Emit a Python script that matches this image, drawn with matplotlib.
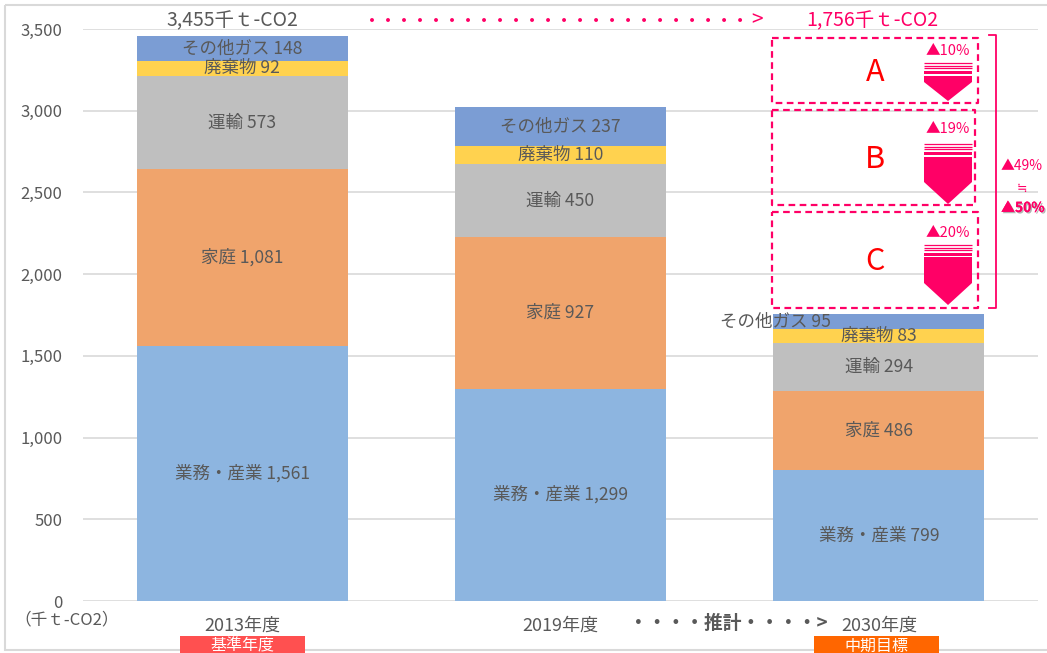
import matplotlib
matplotlib.use("Agg")
import matplotlib.pyplot as plt
import matplotlib.patheffects as pe
import numpy as np

plt.rcParams['font.family'] = ['Noto Sans CJK JP', 'DejaVu Sans']

years = ['2013年度', '2019年度', '2030年度']
sectors = ['業務・産業', '家庭', '運輸', '廃棄物', 'その他ガス']
values = {
    '業務・産業': [1561, 1299, 799],
    '家庭': [1081, 927, 486],
    '運輸': [573, 450, 294],
    '廃棄物': [92, 110, 83],
    'その他ガス': [148, 237, 95],
}
colors = ['#8DB5E0', '#F0A46C', '#BFBFBF', '#FFD24F', '#7B9DD4']
totals_text = ['3,455千ｔ-CO2', '1,756千ｔ-CO2']
cuts = ['▲10%', '▲19%', '▲20%']
cut_names = ['A', 'B', 'C']

GRAY = '#595959'
PINK = '#FF0066'

W, H = 1047, 653
fig = plt.figure(figsize=(W / 100, H / 100), dpi=100)

# plot area in pixels: x 83..1038, y 29..601
ax = fig.add_axes([83 / W, (H - 601) / H, (1038 - 83) / W, (601 - 29) / H])
x = np.arange(len(years))
bottom = np.zeros(len(years))
for i, s in enumerate(sectors):
    v = np.array(values[s])
    ax.bar(x, v, 0.663, bottom=bottom, color=colors[i], zorder=2)
    for j in range(len(years)):
        dx = -0.325 if (s == 'その他ガス' and j == 2) else 0
        ax.text(x[j] + dx, bottom[j] + v[j] / 2, f'{s} {v[j]:,}',
                ha='center', va='center', fontsize=12.6, color=GRAY, zorder=3)
    bottom += v

ax.set_xlim(-0.5, 2.5)
ax.set_ylim(0, 3500)
ax.set_yticks(np.arange(0, 3501, 500))
ax.yaxis.set_major_formatter(matplotlib.ticker.FuncFormatter(lambda v, p: f'{int(v):,}'))
ax.tick_params(axis='y', length=0, pad=15, labelsize=12, labelcolor=GRAY)
ax.set_xticks([])
ax.grid(axis='y', color='#D9D9D9', lw=1.2, zorder=0)
for sp in ax.spines.values():
    sp.set_visible(False)

# overlay in pixel coordinates for decorations
ov = fig.add_axes([0, 0, 1, 1])
ov.set_xlim(0, W)
ov.set_ylim(H, 0)
ov.axis('off')
ov.patch.set_alpha(0)

# chart frame
ov.add_patch(plt.Rectangle((5, 5), W + 10, 645, fill=False, ec='#D9D9D9', lw=1.5))

# x labels
for j, yr in enumerate(years):
    px = 83 + (x[j] + 0.5) * (1038 - 83) / 3
    ov.text(px, 626, yr, ha='center', va='center', fontsize=13, color=GRAY)
ov.text(67, 620, '（千ｔ-CO2）', ha='center', va='center', fontsize=12, color=GRAY)
ov.text(728, 623, '・・・・推計・・・・>', ha='center', va='center', fontsize=13.5,
        color=GRAY, fontweight='bold')
ov.add_patch(plt.Rectangle((180, 636), 125, 20, color='#FF5050', lw=0))
ov.text(242, 646, '基準年度', ha='center', va='center', fontsize=11.5, color='white')
ov.add_patch(plt.Rectangle((814, 636), 125, 20, color='#FF6600', lw=0))
ov.text(876, 646, '中期目標', ha='center', va='center', fontsize=11.5, color='white')

# totals on top
ov.text(232, 21, totals_text[0], ha='center', va='center', fontsize=14, color=GRAY)
ov.text(872, 21, totals_text[1], ha='center', va='center', fontsize=14, color=PINK)
dot_lw = 2.9
ov.plot([372, 745], [20, 20], color=PINK, lw=dot_lw, dash_capstyle='round',
        dashes=(0.001, 16 * 0.72 / dot_lw))
ov.text(757, 20, '>', ha='center', va='center', fontsize=15, color=PINK)

# dashed boxes with arrows
boxes = [(772, 38, 978, 103), (772, 110, 975, 205), (772, 212, 978, 308)]
arrows = [(63, 76, 82, 101), (144, 157, 182, 204), (245, 257, 283, 305)]
label_y = [51, 129, 233]
for k in range(3):
    x0, y0, x1, y1 = boxes[k]
    ov.plot([x0, x1, x1, x0, x0], [y0, y0, y1, y1, y0], color=PINK, lw=1.6,
            dashes=(3, 2))
    ov.text(875, (y0 + y1) / 2 + 2, cut_names[k], ha='center', va='center',
            fontsize=22, color='#FF0000')
    ov.text(948, label_y[k], cuts[k], ha='center', va='center', fontsize=10.5, color=PINK)
    s0, b0, r1, tip = arrows[k]
    xl, xr = 924, 972
    for yy in (s0, s0 + 2.7, s0 + 5.3):
        ov.plot([xl, xr], [yy, yy], color=PINK, lw=0.9, solid_capstyle='butt')
    ov.add_patch(plt.Rectangle((xl, s0 + 7.5), xr - xl, 3, color=PINK, lw=0))
    ov.add_patch(plt.Polygon([(xl, b0), (xr, b0), (xr, r1), ((xl + xr) / 2, tip), (xl, r1)],
                             color=PINK, lw=0))

# bracket
ov.plot([989, 996, 996, 989], [35, 35, 308, 308], color=PINK, lw=1.3)
ov.text(1001, 166, '▲49%', ha='left', va='center', fontsize=10, color=PINK)
ov.text(1022, 188, '≒', ha='center', va='center', fontsize=9, color=PINK)
ov.text(1001, 208, '▲50%', ha='left', va='center', fontsize=10, color=PINK,
        fontweight='bold',
        path_effects=[pe.withSimplePatchShadow(offset=(1, -1), shadow_rgbFace='gray', alpha=0.6),
                      pe.Normal()])

fig.savefig('out.png', dpi=100)
